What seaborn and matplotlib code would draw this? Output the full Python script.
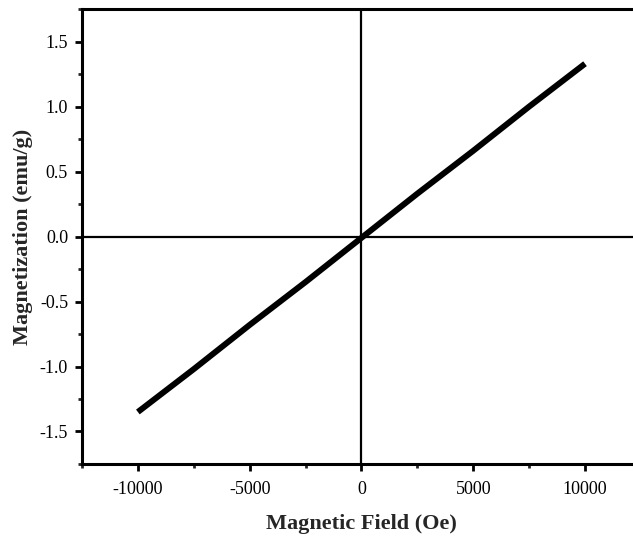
import numpy as np
import pandas as pd
import matplotlib
matplotlib.use("Agg")
import matplotlib.pyplot as plt
from matplotlib.ticker import MultipleLocator
import seaborn as sns

# field (Oe) and magnetization (emu/g)
field = [-10000, -7500, -5000, -2500, 0, 2500, 5000, 7500, 10000]
magnetization = [-1.35, -1.02, -0.68, -0.35, -0.01, 0.33, 0.66, 1.00, 1.33]

xticks = [-10000, -5000, 0, 5000, 10000]
yticks = [-1.5, -1.0, -0.5, 0.0, 0.5, 1.0, 1.5]

df = pd.DataFrame({"H": field, "M": magnetization})

sns.set_style("ticks")
plt.rcParams["font.family"] = ["Liberation Serif", "DejaVu Serif"]

fig = plt.figure(figsize=(6.33, 5.37), dpi=100)
ax = fig.add_axes([0.1295, 0.136, 0.883, 0.847])

sns.lineplot(data=df, x="H", y="M", ax=ax, color="black", linewidth=4.3,
             solid_capstyle="butt")

ax.axhline(0, color="black", linewidth=1.6, zorder=1)
ax.axvline(0, color="black", linewidth=1.6, zorder=1)

ax.set_xlim(-12500, 12500)
ax.set_ylim(-1.75, 1.75)
ax.set_xticks(xticks)
ax.set_xticklabels([str(v) for v in xticks])
ax.set_yticks(yticks)
ax.set_yticklabels([f"{v:.1f}" for v in yticks])
ax.xaxis.set_minor_locator(MultipleLocator(2500))
ax.yaxis.set_minor_locator(MultipleLocator(0.25))

for s in ax.spines.values():
    s.set_linewidth(2.2)
    s.set_color("black")

ax.tick_params(which="major", direction="out", length=5, width=2, labelsize=13,
               colors="black", pad=5)
ax.tick_params(axis="x", which="major", pad=7)
ax.tick_params(which="minor", direction="out", length=3, width=2)

ax.set_xlabel("Magnetic Field (Oe)", fontsize=16, fontweight="bold", labelpad=12)
ax.set_ylabel("Magnetization (emu/g)", fontsize=16, fontweight="bold", labelpad=5)

fig.savefig("out.png", dpi=100, facecolor="white")
